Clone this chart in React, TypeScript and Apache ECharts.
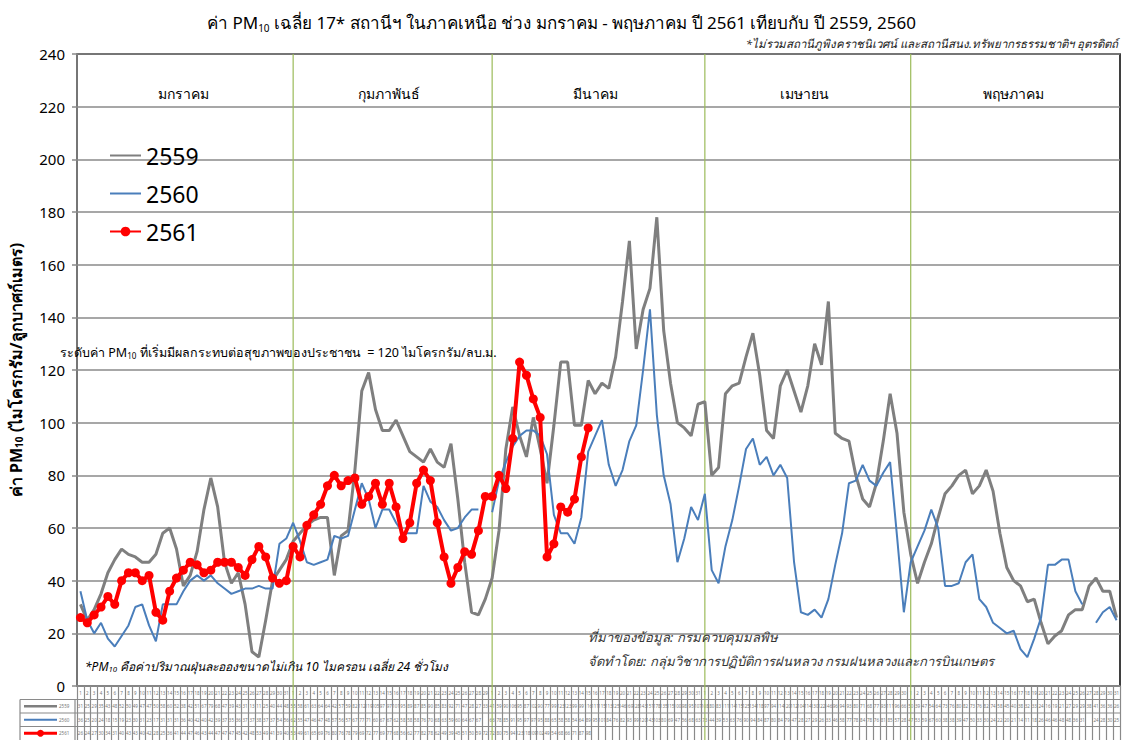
import React, { useEffect, useRef } from 'react';
import * as echarts from 'echarts';

const FONT = "'Noto Sans', 'DejaVu Sans', sans-serif";

const monthNames = ['มกราคม', 'กุมภาพันธ์', 'มีนาคม', 'เมษายน', 'พฤษภาคม'];
const monthDays = [31, 29, 31, 30, 31];
const dayLabels: string[] = monthDays.flatMap((n) => Array.from({ length: n }, (_, i) => String(i + 1)));
const seriesNames = ['2559', '2560', '2561'];
const threshold = 120;

// ปี 2559 (gray)
const s2559Jan = [31, 25, 29, 35, 43, 48, 52, 50, 49, 47, 47, 50, 58, 60, 52, 38, 42, 51, 67, 79, 68, 47, 39, 43, 31, 13, 11, 25, 40, 44, 48];
const s2559Feb = [55, 58, 61, 63, 64, 64, 42, 57, 59, 82, 112, 119, 105, 97, 97, 101, 95, 89, 87, 85, 90, 85, 83, 92, 71, 47, 28, 27, 33];
const s2559Mar = [41, 59, 90, 106, 95, 87, 102, 90, 77, 99, 123, 123, 99, 99, 116, 111, 115, 113, 125, 146, 169, 128, 143, 151, 178, 135, 115, 100, 98, 95, 107];
const s2559Apr = [108, 80, 83, 111, 114, 115, 125, 134, 118, 97, 94, 114, 120, 112, 104, 114, 130, 122, 146, 96, 94, 93, 80, 71, 68, 77, 93, 111, 96, 66];
const s2559May = [50, 39, 47, 54, 64, 73, 76, 80, 82, 73, 76, 82, 74, 58, 45, 40, 38, 32, 33, 24, 16, 19, 21, 27, 29, 29, 38, 41, 36, 36, 26];

// ปี 2560 (blue)
const s2560Jan = [36, 25, 20, 24, 18, 15, 19, 23, 30, 31, 23, 17, 31, 31, 31, 36, 40, 42, 40, 42, 39, 37, 35, 36, 37, 37, 38, 37, 37, 54, 56];
const s2560Feb = [62, 55, 47, 46, 47, 48, 57, 56, 57, 67, 77, 71, 60, 67, 67, 62, 58, 58, 58, 76, 70, 68, 63, 59, 60, 64, 67, 67, null];
const s2560Mar = [66, 78, 85, 91, 95, 97, 97, 95, 88, 65, 58, 58, 54, 64, 89, 95, 101, 84, 76, 82, 93, 99, 120, 143, 103, 80, 69, 47, 56, 68, 63];
const s2560Apr = [73, 44, 39, 53, 63, 76, 90, 94, 84, 87, 80, 84, 79, 47, 28, 27, 29, 26, 33, 46, 58, 77, 78, 84, 78, 76, 81, 85, 57, 28];
const s2560May = [47, 53, 59, 67, 60, 38, 38, 39, 47, 50, 33, 30, 24, 22, 20, 21, 14, 11, 18, 26, 46, 46, 48, 48, 36, 31, null, 24, 28, 30, 25];

// ปี 2561 (red)
const s2561Jan = [26, 24, 27, 30, 34, 31, 40, 43, 43, 40, 42, 28, 25, 36, 41, 44, 47, 46, 43, 44, 47, 47, 47, 45, 42, 48, 53, 49, 41, 39, 40];
const s2561Feb = [53, 49, 61, 65, 69, 76, 80, 76, 78, 79, 69, 72, 77, 69, 77, 68, 56, 62, 77, 82, 78, 62, 49, 39, 45, 51, 50, 59, 72];
const s2561Mar = [72, 80, 75, 94, 123, 118, 109, 102, 49, 54, 68, 66, 71, 87, 98];

const s2559 = [...s2559Jan, ...s2559Feb, ...s2559Mar, ...s2559Apr, ...s2559May];
const s2560 = [...s2560Jan, ...s2560Feb, ...s2560Mar, ...s2560Apr, ...s2560May];
const s2561 = [...s2561Jan, ...s2561Feb, ...s2561Mar];

const GRAY = '#7F7F7F';
const BLUE = '#4A7EBB';
const RED = '#FF0000';
const GRIDC = '#8A8A8A';
const GREEN = '#9BBB59';

const TOP = 54;
const BOTTOM_AXIS = 686;
const ROW = 13.5;
const PAGE_H = 740;

export default function App() {
  const ref = useRef<HTMLDivElement>(null);

  useEffect(() => {
    const el = ref.current!;
    const chart = echarts.init(el, null, { renderer: 'svg' });

    const rowFmt = (arr: (number | null)[]) => (_v: string, i: number) =>
      arr[i] == null ? '' : String(Math.round(arr[i] as number));

    const tableAxis = (arr: (number | null)[], k: number) => ({
      type: 'category',
      data: dayLabels,
      gridIndex: 0,
      position: 'bottom',
      offset: ROW * k,
      boundaryGap: true,
      axisLine: { show: false },
      axisTick: { show: false },
      splitLine: { show: false },
      axisLabel: { interval: 0, fontSize: 4.5, color: '#777', margin: 4, fontFamily: FONT, formatter: rowFmt(arr) },
    });

    const sub = { fontSize: 10, verticalAlign: 'bottom', lineHeight: 22, fontFamily: FONT, color: '#000' };

    chart.setOption({
      animation: false,
      backgroundColor: '#fff',
      title: {
        text: '{a|ค่า PM}{s|10}{a| เฉลี่ย 17* สถานีฯ ในภาคเหนือ ช่วง มกราคม - พฤษภาคม ปี 2561 เทียบกับ ปี 2559, 2560}',
        left: 'center',
        top: 4,
        textStyle: {
          rich: {
            a: { fontSize: 17, fontWeight: 'normal', lineHeight: 22, color: '#000', fontFamily: FONT, verticalAlign: 'bottom' },
            s: { ...sub, fontWeight: 'normal', padding: [0, 0, -2, 0] },
          },
        },
      },
      legend: {
        data: [
          { name: '2559', itemStyle: { opacity: 0 } },
          { name: '2560', itemStyle: { opacity: 0 } },
          { name: '2561' },
        ],
        orient: 'vertical',
        left: 104,
        top: 139,
        itemWidth: 31,
        itemHeight: 12,
        itemGap: 15,
        textStyle: { fontSize: 23, color: '#000', fontFamily: FONT },
      },
      grid: { left: 75, right: 3, top: TOP, bottom: PAGE_H - BOTTOM_AXIS, show: true, borderColor: '#000', borderWidth: 1.5 },
      xAxis: [
        {
          type: 'category',
          data: dayLabels,
          boundaryGap: true,
          axisLine: { lineStyle: { color: GRIDC, width: 1.5 } },
          axisTick: { show: true, interval: 0, length: PAGE_H - BOTTOM_AXIS, lineStyle: { color: GRIDC, width: 1.2 } },
          axisLabel: { interval: 0, fontSize: 4.5, color: '#777', margin: 4, fontFamily: FONT },
          splitLine: { show: false },
        },
        tableAxis(s2559, 1),
        tableAxis(s2560, 2),
        tableAxis(s2561, 3),
      ],
      yAxis: {
        type: 'value',
        min: 0,
        max: 240,
        interval: 20,
        name: '{b|ค่า PM}{s|10}{b| (ไมโครกรัม/ลูกบาศก์เมตร)}',
        nameLocation: 'middle',
        nameGap: 53,
        nameTextStyle: {
          rich: {
            b: { fontSize: 16, fontWeight: 'bold', color: '#000', fontFamily: FONT, lineHeight: 22, verticalAlign: 'bottom' },
            s: { ...sub, fontWeight: 'bold' },
          },
        },
        axisLine: { show: true, lineStyle: { color: GRIDC, width: 1.5 } },
        axisTick: { show: true, length: 5, lineStyle: { color: GRIDC, width: 1.5 } },
        axisLabel: { fontSize: 15, color: '#000', margin: 12, fontFamily: FONT },
        splitLine: { lineStyle: { color: GRIDC, width: 1.5 } },
      },
      series: [
        {
          name: '2559',
          type: 'line',
          data: s2559,
          symbol: 'none',
          lineStyle: { color: GRAY, width: 3 },
          itemStyle: { color: GRAY },
          z: 3,
          markLine: {
            silent: true,
            symbol: 'none',
            label: { show: false },
            lineStyle: { color: '#F79646', width: 4, type: 'solid', shadowColor: 'rgba(0,0,0,0.35)', shadowBlur: 3, shadowOffsetY: 2 },
            data: [{ yAxis: threshold }],
            z: 2,
          },
        },
        {
          name: '2560',
          type: 'line',
          data: s2560,
          symbol: 'none',
          lineStyle: { color: BLUE, width: 2 },
          itemStyle: { color: BLUE },
          z: 4,
        },
        {
          name: '2561',
          type: 'line',
          data: s2561,
          symbol: 'circle',
          symbolSize: 9,
          showSymbol: true,
          lineStyle: { color: RED, width: 4 },
          itemStyle: { color: RED },
          z: 5,
        },
      ],
    });

    // month separators and labels, positioned through the axis scale
    const px = (i: number) => chart.convertToPixel({ xAxisIndex: 0 }, i) as number;
    const py = (v: number) => chart.convertToPixel({ yAxisIndex: 0 }, v) as number;
    const starts: number[] = [];
    monthDays.reduce((acc, n) => {
      starts.push(acc);
      return acc + n;
    }, 0);

    const elements: any[] = [];
    starts.forEach((s, m) => {
      if (m > 0) {
        const x = px(s);
        elements.push({
          type: 'line',
          z: 1,
          shape: { x1: x, y1: TOP, x2: x, y2: PAGE_H },
          style: { stroke: GREEN, lineWidth: 1.2 },
        });
      }
      const cx = (px(s) + px(s + monthDays[m] - 1)) / 2;
      elements.push({
        type: 'text',
        x: cx,
        y: 93,
        z: 6,
        style: { text: monthNames[m], fontSize: 14, fontFamily: FONT, fill: '#000', align: 'center', verticalAlign: 'middle' },
      });
    });

    const subT = (size: number, italic: boolean) => ({
      a: { fontSize: size, fontFamily: FONT, fontStyle: italic ? 'italic' : 'normal', fill: '#000', color: '#000' },
      s: { fontSize: size * 0.65, fontFamily: FONT, fontStyle: italic ? 'italic' : 'normal', color: '#000', padding: [size * 0.5, 0, 0, 0] },
    });

    const yT = py(threshold);
    elements.push(
      {
        type: 'text',
        x: 60,
        y: yT - 18,
        z: 6,
        style: {
          text: '{a|ระดับค่า PM}{s|10}{a| ที่เริ่มมีผลกระทบต่อสุขภาพของประชาชน  = 120 ไมโครกรัม/ลบ.ม.}',
          rich: subT(12.5, false),
          verticalAlign: 'middle',
        },
      },
      {
        type: 'text',
        right: 5,
        top: 37,
        style: { text: '*ไม่รวมสถานีภูพิงคราชนิเวศน์ และสถานีสนง.ทรัพยากรธรรมชาติฯ อุตรดิตถ์', fontSize: 11.5, fontStyle: 'italic', fontFamily: FONT, fill: '#222' },
      },
      {
        type: 'text',
        x: 588,
        y: 637,
        z: 6,
        style: { text: 'ที่มาของข้อมูล: กรมควบคุมมลพิษ', fontSize: 13, fontStyle: 'italic', fontFamily: FONT, fill: '#333', verticalAlign: 'middle' },
      },
      {
        type: 'text',
        x: 588,
        y: 661,
        z: 6,
        style: { text: 'จัดทำโดย: กลุ่มวิชาการปฏิบัติการฝนหลวง กรมฝนหลวงและการบินเกษตร', fontSize: 13, fontStyle: 'italic', fontFamily: FONT, fill: '#333', verticalAlign: 'middle' },
      },
      {
        type: 'text',
        x: 85,
        y: 666,
        z: 6,
        style: {
          text: '{a|*PM}{s|10}{a| คือค่าปริมาณฝุ่นละอองขนาดไม่เกิน 10 ไมครอน เฉลี่ย 24 ชั่วโมง}',
          rich: subT(12, true),
          verticalAlign: 'middle',
        },
      }
    );

    // data table frame (left legend column and row lines)
    const rightX = px(dayLabels.length - 1) + (px(1) - px(0)) / 2;
    for (let k = 1; k <= 3; k++) {
      const y = BOTTOM_AXIS + ROW * k;
      elements.push({ type: 'line', z: 1, shape: { x1: 20, y1: y, x2: rightX, y2: y }, style: { stroke: GRIDC, lineWidth: 1.2 } });
    }
    elements.push({ type: 'line', z: 1, shape: { x1: 20, y1: BOTTOM_AXIS + ROW, x2: 20, y2: PAGE_H }, style: { stroke: GRIDC, lineWidth: 1.2 } });
    elements.push({ type: 'line', z: 1, shape: { x1: 75, y1: BOTTOM_AXIS + ROW, x2: 75, y2: PAGE_H }, style: { stroke: GRIDC, lineWidth: 1.2 } });
    const keyColors = [GRAY, BLUE, RED];
    const keyWidths = [2.5, 2, 3];
    seriesNames.forEach((n, k) => {
      const y = BOTTOM_AXIS + ROW * (k + 1) + ROW / 2;
      elements.push({ type: 'line', z: 2, shape: { x1: 24, y1: y, x2: 57, y2: y }, style: { stroke: keyColors[k], lineWidth: keyWidths[k] } });
      if (k === 2) elements.push({ type: 'circle', z: 3, shape: { cx: 40.5, cy: y, r: 3.5 }, style: { fill: RED } });
      elements.push({ type: 'text', x: 59, y, z: 2, style: { text: n, fontSize: 4.5, fontFamily: FONT, fill: '#777', verticalAlign: 'middle' } });
    });

    chart.setOption({ graphic: { elements } });

    return () => chart.dispose();
  }, []);

  return <div ref={ref} style={{ position: 'absolute', left: 0, top: 0, width: 1123, height: 740 }} />;
}
